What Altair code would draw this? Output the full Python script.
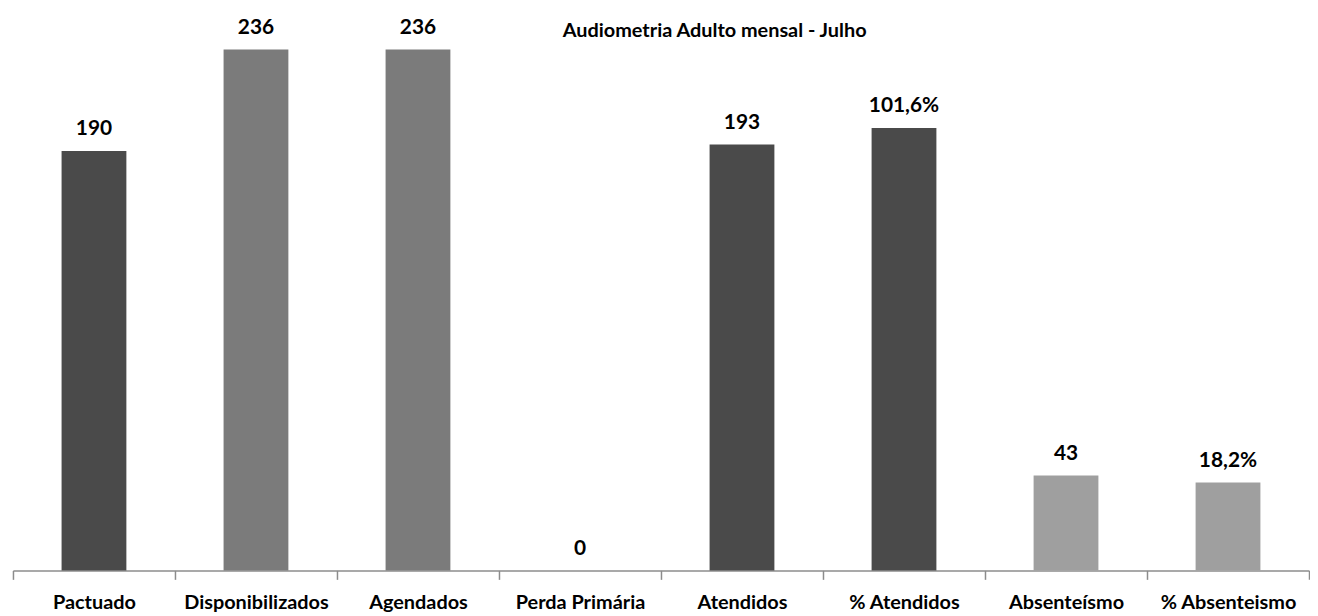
import altair as alt
import pandas as pd

title_text = "Audiometria Adulto mensal - Julho"
categories = ["Pactuado", "Disponibilizados", "Agendados", "Perda Primária",
              "Atendidos", "% Atendidos", "Absenteísmo", "% Absenteismo"]
values = [190, 236, 236, 0, 193, 101.6, 43, 18.2]
kinds = ["count", "count", "count", "count", "count", "pct", "count", "pct"]
shade = ["dark", "mid", "mid", "mid", "dark", "dark", "light", "light"]

shade_domain = ["dark", "mid", "light"]
shade_range = ["#4a4a4a", "#7b7b7b", "#9f9f9f"]


def fmt(v, k):
    if k == "pct":
        return f"{v:.1f}".replace(".", ",") + "%"
    return f"{int(v)}"


df = pd.DataFrame({
    "cat": categories,
    "value": values,
    "kind": kinds,
    "shade": shade,
    "label": [fmt(v, k) for v, k in zip(values, kinds)],
})

W = 1304
H = 562
FONT = "Lato"

x_enc = alt.X(
    "cat:N",
    sort=categories,
    title=None,
    scale=alt.Scale(paddingInner=0, paddingOuter=0),
    axis=alt.Axis(
        labelAngle=0,
        labelFont=FONT,
        labelFontSize=20,
        labelFontWeight="bold",
        labelColor="#000000",
        labelPadding=13,
        domainColor="#8c8c8c",
        domainWidth=1.5,
        tickColor="#8c8c8c",
        tickWidth=1.5,
        tickSize=9,
        tickBand="extent",
        grid=False,
    ),
)

color_enc = alt.Color("shade:N", scale=alt.Scale(domain=shade_domain, range=shade_range), legend=None)

base = alt.Chart(df)

count_scale = alt.Scale(domain=[0, 253.1], nice=False, zero=False)
pct_scale = alt.Scale(domain=[-2.5, 128.9], nice=False, zero=False)

bar_w = alt.RelativeBandSize(0.4)

bars_count = base.transform_filter(alt.datum.kind == "count").mark_bar(width=bar_w).encode(
    x=x_enc,
    y=alt.Y("value:Q", scale=count_scale, axis=None, stack=None),
    y2=alt.value(H),
    color=color_enc,
)
text_count = base.transform_filter(alt.datum.kind == "count").mark_text(
    font=FONT, fontSize=21, fontWeight="bold", color="#000000", baseline="alphabetic", dy=-16
).encode(
    x=x_enc,
    y=alt.Y("value:Q", scale=count_scale, axis=None, stack=None),
    text="label:N",
)

bars_pct = base.transform_filter(alt.datum.kind == "pct").mark_bar(width=bar_w).encode(
    x=x_enc,
    y=alt.Y("value:Q", scale=pct_scale, axis=None, stack=None),
    y2=alt.value(H),
    color=color_enc,
)
text_pct = base.transform_filter(alt.datum.kind == "pct").mark_text(
    font=FONT, fontSize=21, fontWeight="bold", color="#000000", baseline="alphabetic", dy=-16
).encode(
    x=x_enc,
    y=alt.Y("value:Q", scale=pct_scale, axis=None, stack=None),
    text="label:N",
)

title_layer = alt.Chart(pd.DataFrame({"t": [title_text]})).mark_text(
    font=FONT, fontSize=20, fontWeight="bold", color="#000000", baseline="alphabetic"
).encode(
    text="t:N",
    x=alt.value(706),
    y=alt.value(25),
)

chart = alt.layer(bars_count, text_count, bars_pct, text_pct, title_layer).resolve_scale(
    y="independent"
).properties(
    width=W,
    height=H,
    padding={"left": 4, "top": 2, "right": 0, "bottom": 0},
    background="#ffffff",
).configure_view(stroke=None)

chart.save("out.html", embed_options={"renderer": "svg", "actions": False})
